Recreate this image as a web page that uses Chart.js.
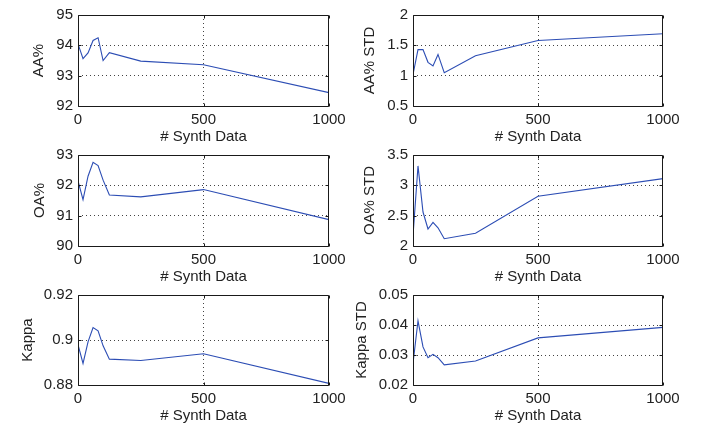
<!DOCTYPE html>
<html>
<head>
<meta charset="utf-8">
<script src="https://cdn.jsdelivr.net/npm/chart.js@4/dist/chart.umd.min.js"></script>
<style>
  html, body { margin: 0; padding: 0; background: #fff; }
  body { width: 703px; height: 423px; position: relative; overflow: hidden; }
  .cell { position: absolute; }
</style>
</head>
<body>
<div class="cell" style="left:0;top:0;width:345px;height:146px"><canvas id="c-aa"></canvas></div>
<div class="cell" style="left:345px;top:0;width:358px;height:146px"><canvas id="c-aastd"></canvas></div>
<div class="cell" style="left:0;top:140px;width:345px;height:146px"><canvas id="c-oa"></canvas></div>
<div class="cell" style="left:345px;top:140px;width:358px;height:146px"><canvas id="c-oastd"></canvas></div>
<div class="cell" style="left:0;top:280px;width:345px;height:145px"><canvas id="c-kappa"></canvas></div>
<div class="cell" style="left:345px;top:280px;width:358px;height:145px"><canvas id="c-kappastd"></canvas></div>
<script>
// number of synthetic samples (x axis)
const synthCounts = [0, 20, 40, 60, 80, 100, 125, 250, 500, 1000];
const xTicks = [0, 500, 1000];

const aaValues = [94.05, 93.56, 93.75, 94.16, 94.25, 93.5, 93.76, 93.48, 93.36, 92.44];
const aaStdValues = [1.02, 1.43, 1.43, 1.22, 1.16, 1.35, 1.05, 1.33, 1.58, 1.69];
const oaValues = [92.15, 91.53, 92.3, 92.76, 92.65, 92.17, 91.68, 91.62, 91.86, 90.87];
const oaStdValues = [2.17, 3.32, 2.56, 2.28, 2.39, 2.3, 2.12, 2.21, 2.82, 3.11];
const kappaValues = [0.8979, 0.8896, 0.8992, 0.9055, 0.9041, 0.8974, 0.8915, 0.8909, 0.8939, 0.8807];
const kappaStdValues = [0.0272, 0.0414, 0.0327, 0.0291, 0.0302, 0.0291, 0.0267, 0.028, 0.0357, 0.0392];

const aaTicks = [92, 93, 94, 95];
const aaStdTicks = [0.5, 1, 1.5, 2];
const oaTicks = [90, 91, 92, 93];
const oaStdTicks = [2, 2.5, 3, 3.5];
const kappaTicks = [0.88, 0.9, 0.92];
const kappaStdTicks = [0.02, 0.03, 0.04, 0.05];

const FONT = { family: "'Liberation Sans', Arial, Helvetica, sans-serif", size: 15 };
const TEXT = "#222";
const LINE = "#2c4db4";

// box + small inward ticks, like matlab
const boxPlugin = {
  id: "box",
  afterDraw(chart) {
    const { ctx, chartArea: a, scales } = chart;
    const L = Math.round(a.left) + 0.5, R = Math.round(a.right) - 0.5;
    const T = Math.round(a.top) + 0.5, B = Math.round(a.bottom) + 0.5;
    ctx.save();
    ctx.strokeStyle = "#1a1a1a";
    ctx.lineWidth = 1;
    ctx.beginPath();
    ctx.rect(L, T, R - L, B - T);
    const tk = 3;
    scales.x.ticks.forEach((t) => {
      const px = Math.round(scales.x.getPixelForValue(t.value)) + 0.5;
      ctx.moveTo(px, B); ctx.lineTo(px, B - tk);
      ctx.moveTo(px, T); ctx.lineTo(px, T + tk);
    });
    scales.y.ticks.forEach((t) => {
      const py = Math.round(scales.y.getPixelForValue(t.value)) + 0.5;
      ctx.moveTo(L, py); ctx.lineTo(L + tk, py);
      ctx.moveTo(R, py); ctx.lineTo(R - tk, py);
    });
    ctx.stroke();
    ctx.restore();
  },
};

function innerGrid(ctx) {
  const s = ctx.scale;
  const v = ctx.tick && ctx.tick.value;
  if (v === s.min || v === s.max) return "rgba(0,0,0,0)";
  return "#444";
}

function makeChart(id, values, yTicks, yLabel, opts) {
  const yMin = yTicks[0];
  const yMax = yTicks[yTicks.length - 1];
  new Chart(document.getElementById(id), {
    type: "line",
    data: {
      datasets: [{
        data: synthCounts.map((x, i) => ({ x, y: values[i] })),
        borderColor: LINE,
        borderWidth: 1.1,
        pointRadius: 0,
        tension: 0,
        fill: false,
      }],
    },
    options: {
      animation: false,
      responsive: true,
      maintainAspectRatio: false,
      events: [],
      layout: { padding: { top: 15, right: opts.right, bottom: 0, left: 0 } },
      plugins: { legend: { display: false }, tooltip: { enabled: false } },
      scales: {
        x: {
          type: "linear",
          min: 0,
          max: 1000,
          afterBuildTicks: (s) => { s.ticks = xTicks.map((value) => ({ value })); },
          afterFit: (s) => { s.height = opts.xH; s.paddingLeft = 0; s.paddingRight = 0; },
          ticks: { font: FONT, color: TEXT, padding: 5, maxRotation: 0, autoSkip: false, callback: (v) => String(v) },
          grid: { color: innerGrid, drawTicks: false, lineWidth: 1 },
          border: { display: false, dash: [1, 3] },
          title: { display: true, text: "# Synth Data", font: FONT, color: TEXT, padding: { top: 0, bottom: 0 } },
        },
        y: {
          type: "linear",
          min: yMin,
          max: yMax,
          afterBuildTicks: (s) => { s.ticks = yTicks.map((value) => ({ value })); },
          afterFit: (s) => { s.width = opts.axisW; s.paddingTop = 0; s.paddingBottom = 0; },
          ticks: { font: FONT, color: TEXT, padding: 5, autoSkip: false, callback: (v) => String(v) },
          grid: { color: innerGrid, drawTicks: false, lineWidth: 1 },
          border: { display: false, dash: [1, 3] },
          title: { display: true, text: yLabel, font: FONT, color: TEXT, padding: { top: opts.titleX - 9, bottom: 0 } },
        },
      },
    },
    plugins: [boxPlugin],
  });
}

const LEFT = { axisW: 78, right: 16, xH: 40 };
const RIGHT = { axisW: 68, right: 40, xH: 40 };

makeChart("c-aa", aaValues, aaTicks, "AA%", { ...LEFT, titleX: 39 });
makeChart("c-aastd", aaStdValues, aaStdTicks, "AA% STD", { ...RIGHT, titleX: 25 });
makeChart("c-oa", oaValues, oaTicks, "OA%", { ...LEFT, titleX: 40 });
makeChart("c-oastd", oaStdValues, oaStdTicks, "OA% STD", { ...RIGHT, titleX: 25 });
makeChart("c-kappa", kappaValues, kappaTicks, "Kappa", { ...LEFT, titleX: 28 });
makeChart("c-kappastd", kappaStdValues, kappaStdTicks, "Kappa STD", { ...RIGHT, titleX: 17 });
</script>
</body>
</html>
